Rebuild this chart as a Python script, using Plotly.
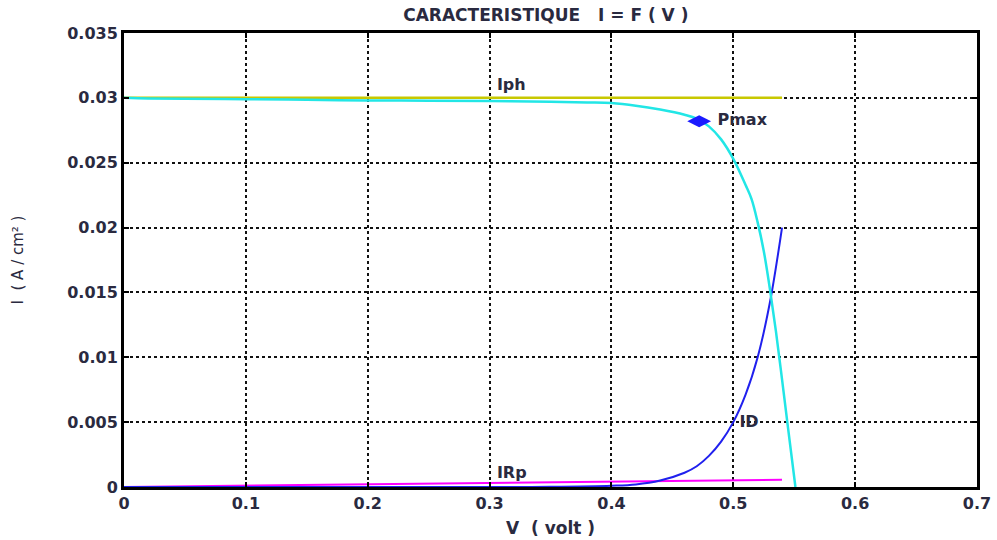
import plotly.graph_objects as go

# --- data ---
v_iph = [0.0, 0.54]
i_iph = [0.030, 0.030]

v_i = [0.0, 0.02, 0.05, 0.1, 0.15, 0.2, 0.25, 0.3, 0.35, 0.38, 0.4, 0.42, 0.44, 0.46,
       0.47, 0.48, 0.49, 0.50, 0.51, 0.515, 0.52, 0.525, 0.53, 0.535, 0.54, 0.545, 0.551]
i_i = [0.0300, 0.02995, 0.02993, 0.0299, 0.02985, 0.0298, 0.02978, 0.02975, 0.0297,
       0.02965, 0.0296, 0.0294, 0.0291, 0.0287, 0.0284, 0.0278, 0.0268, 0.0253, 0.0233,
       0.0222, 0.0204, 0.0182, 0.0153, 0.0120, 0.0083, 0.0045, 0.0]

v_id = [0.0, 0.1, 0.2, 0.3, 0.35, 0.4, 0.42, 0.44, 0.46, 0.47, 0.48, 0.49, 0.50,
        0.51, 0.52, 0.53, 0.54]
i_id = [0.0, 0.0, 0.0, 0.0, 0.00002, 0.0001, 0.0002, 0.0005, 0.0011, 0.0016, 0.0024,
        0.0035, 0.0050, 0.0071, 0.0100, 0.0142, 0.0200]

v_irp = [0.0, 0.1, 0.2, 0.3, 0.4, 0.5, 0.52, 0.54]
i_irp = [0.0, 0.0001, 0.0002, 0.0003, 0.0004, 0.0005, 0.00055, 0.00055]

pmax_v = [0.472]
pmax_i = [0.0282]

label_text = ["Iph", "Pmax", "ID", "IRp"]
label_v = [0.306, 0.487, 0.505, 0.306]
label_i = [0.0309, 0.0282, 0.0049, 0.0010]

x_ticks = [0, 0.1, 0.2, 0.3, 0.4, 0.5, 0.6, 0.7]
x_ticktext = ["0", "0.1", "0.2", "0.3", "0.4", "0.5", "0.6", "0.7"]
y_ticks = [0, 0.005, 0.01, 0.015, 0.02, 0.025, 0.03, 0.035]
y_ticktext = ["0", "0.005", "0.01", "0.015", "0.02", "0.025", "0.03", "0.035"]

FONT = "DejaVu Sans, Liberation Sans, Arial, sans-serif"
TXT = "#2a2a40"

fig = go.Figure()
fig.add_trace(go.Scatter(x=v_iph, y=i_iph, mode="lines",
                         line=dict(color="#c8c800", width=2.5), hoverinfo="skip"))
fig.add_trace(go.Scatter(x=v_irp, y=i_irp, mode="lines",
                         line=dict(color="#ff00ff", width=2), hoverinfo="skip"))
fig.add_trace(go.Scatter(x=v_id, y=i_id, mode="lines",
                         line=dict(color="#2020ee", width=2), line_shape="spline",
                         hoverinfo="skip"))
fig.add_trace(go.Scatter(x=v_i, y=i_i, mode="lines",
                         line=dict(color="#22e6e6", width=2.5), line_shape="spline",
                         hoverinfo="skip"))
fig.add_trace(go.Scatter(x=pmax_v, y=pmax_i, mode="markers",
                         marker=dict(symbol="diamond-wide", size=17, color="#1a1aff"),
                         hoverinfo="skip"))
fig.add_trace(go.Scatter(x=label_v, y=label_i, mode="text", text=label_text,
                         textposition="middle right",
                         textfont=dict(family=FONT, size=16, color=TXT, weight="bold"),
                         hoverinfo="skip"))

axis_common = dict(
    showline=True, linecolor="black", linewidth=3, mirror="ticks",
    ticks="inside", ticklen=5, tickcolor="black", tickwidth=1.5,
    showgrid=True, gridcolor="#111111", gridwidth=2, griddash="dot",
    zeroline=False, automargin=False,
    tickfont=dict(family=FONT, size=16, color=TXT, weight="bold"),
)

fig.update_xaxes(range=[0, 0.7], tickvals=x_ticks, ticktext=x_ticktext,
                 title=dict(text="V  ( volt )", standoff=10,
                            font=dict(family=FONT, size=17, color=TXT, weight="bold")),
                 **axis_common)
fig.update_yaxes(range=[0, 0.035], tickvals=y_ticks, ticktext=y_ticktext,
                 title=dict(text="I  ( A / cm² )", standoff=40,
                            font=dict(family=FONT, size=15, color=TXT)),
                 **axis_common)

fig.update_layout(
    width=997, height=540,
    margin=dict(l=124, r=20, t=33, b=53, autoexpand=False),
    paper_bgcolor="white", plot_bgcolor="white",
    showlegend=False,
    title=dict(text="CARACTERISTIQUE   I = F ( V )", x=0.5475, xanchor="center",
               y=0.972, yanchor="middle",
               font=dict(family=FONT, size=17, color=TXT, weight="bold")),
)

fig.write_html("out.html")
